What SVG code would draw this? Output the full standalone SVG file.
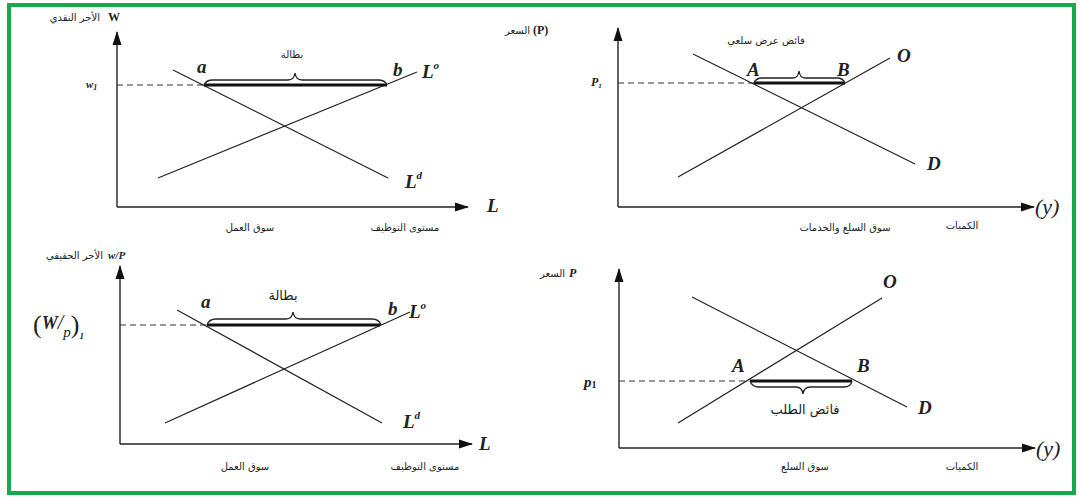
<svg xmlns="http://www.w3.org/2000/svg" width="1080" height="499" viewBox="0 0 1080 499">
<defs>
<marker id="arr" markerUnits="userSpaceOnUse" markerWidth="14" markerHeight="10" refX="13" refY="5" orient="auto">
<path d="M0,0.5 L14,5 L0,9.5 z" fill="#111"/>
</marker>
<style>
.ax{stroke:#222;stroke-width:1.4;fill:none}
.ln{stroke:#222;stroke-width:1.2;fill:none}
.dash{stroke:#333;stroke-width:1.1;stroke-dasharray:6 4;fill:none}
.bold{stroke:#111;stroke-width:3;fill:none}
.br{stroke:#222;stroke-width:1.3;fill:none}
.ar{font-family:"DejaVu Sans",sans-serif;font-size:10px;fill:#222}
.arl{font-family:"DejaVu Sans",sans-serif;font-size:13px;fill:#222}
.it{font-family:"Liberation Serif",serif;font-style:italic;font-weight:bold;font-size:19px;fill:#222}
.sm{font-family:"Liberation Serif",serif;font-weight:bold;font-size:12px;fill:#222}
</style>
</defs>
<rect x="9" y="5" width="1065" height="488" fill="#fff" stroke="#14ab4f" stroke-width="4"/>

<g id="panel-labour-nominal">
<text class="ar" x="100" y="21" text-anchor="end">الأجر النقدي</text>
<text class="sm" x="108" y="21">W</text>
<line class="ax" x1="117" y1="207" x2="117" y2="32" marker-end="url(#arr)"/>
<line class="ax" x1="117" y1="207" x2="468" y2="207" marker-end="url(#arr)"/>
<text class="it" x="487" y="212">L</text>
<text font-family="Liberation Serif,serif" font-style="italic" font-weight="bold" font-size="11" fill="#222" x="86" y="88">w<tspan font-size="8" dy="2">1</tspan></text>
<line class="dash" x1="117" y1="85" x2="203" y2="85"/>
<line class="ln" x1="173" y1="70" x2="388" y2="178"/>
<line class="ln" x1="158" y1="178" x2="417" y2="72"/>
<line class="bold" x1="204" y1="85" x2="387" y2="85"/>
<path class="br" d="M204,85 Q206,80 213,80 L288,80 Q294,80 295,73 Q296,80 302,80 L378,80 Q385,80 387,85"/>
<text class="ar" x="292" y="58" text-anchor="middle">بطالة</text>
<text class="it" x="197" y="73">a</text>
<text class="it" x="393" y="76">b</text>
<text class="it" x="422" y="78">L<tspan font-size="11" dy="-9">o</tspan></text>
<text class="it" x="405" y="188">L<tspan font-size="11" dy="-9">d</tspan></text>
<text class="ar" x="250" y="231" text-anchor="middle">سوق العمل</text>
<text class="ar" x="405" y="231" text-anchor="middle">مستوى التوظيف</text>
</g>

<g id="panel-goods-services">
<text class="ar" x="530" y="34" text-anchor="end">السعر</text>
<text class="sm" x="533" y="34">(P)</text>
<line class="ax" x1="618" y1="207" x2="618" y2="28" marker-end="url(#arr)"/>
<line class="ax" x1="618" y1="207" x2="1034" y2="207" marker-end="url(#arr)"/>
<text font-family="Liberation Serif,serif" font-style="italic" font-size="22" fill="#222" x="1035" y="214">(y)</text>
<text font-family="Liberation Serif,serif" font-style="italic" font-weight="bold" font-size="12" fill="#222" x="591" y="86">P<tspan font-size="7" dy="2">1</tspan></text>
<line class="dash" x1="618" y1="83" x2="754" y2="83"/>
<line class="ln" x1="693" y1="54" x2="915" y2="164"/>
<line class="ln" x1="678" y1="177" x2="890" y2="58"/>
<line class="bold" x1="754" y1="83" x2="845" y2="83"/>
<path class="br" d="M754,83 Q756,78 762,78 L793,78 Q798,78 799,71 Q800,78 805,78 L837,78 Q843,78 845,83"/>
<text class="ar" x="766" y="44" text-anchor="middle">فائض عرض سلعي</text>
<text class="it" x="747" y="76">A</text>
<text class="it" x="837" y="76">B</text>
<text class="it" x="897" y="62">O</text>
<text class="it" x="927" y="170">D</text>
<text class="ar" x="845" y="231" text-anchor="middle">سوق السلع والخدمات</text>
<text class="ar" x="962" y="229" text-anchor="middle">الكميات</text>
</g>

<g id="panel-labour-real">
<text class="ar" x="103" y="259" text-anchor="end">الأجر الحقيقي</text>
<text font-family="Liberation Serif,serif" font-style="italic" font-weight="bold" font-size="11" fill="#222" x="108" y="259">w/P</text>
<line class="ax" x1="120" y1="444" x2="120" y2="266" marker-end="url(#arr)"/>
<line class="ax" x1="120" y1="444" x2="472" y2="444" marker-end="url(#arr)"/>
<text class="it" x="479" y="450">L</text>
<text font-family="Liberation Serif,serif" font-style="italic" fill="#222" x="33" y="333"><tspan font-size="26" font-style="normal">(</tspan><tspan font-size="18" font-weight="bold" dy="-4">W</tspan><tspan font-size="20" dy="0">/</tspan><tspan font-size="15" dy="8">p</tspan><tspan font-size="26" font-style="normal" dy="-4">)</tspan><tspan font-size="9" font-weight="bold" dy="6">1</tspan></text>
<line class="dash" x1="120" y1="325" x2="206" y2="325"/>
<line class="ln" x1="177" y1="310" x2="382" y2="423"/>
<line class="ln" x1="165" y1="423" x2="410" y2="312"/>
<line class="bold" x1="207" y1="325" x2="380" y2="325"/>
<path class="br" d="M207,325 Q209,319 216,319 L286,319 Q292,319 293,312 Q294,319 300,319 L372,319 Q379,319 381,325"/>
<text class="arl" x="283" y="300" text-anchor="middle">بطالة</text>
<text class="it" x="201" y="308">a</text>
<text class="it" x="388" y="315">b</text>
<text class="it" x="409" y="318">L<tspan font-size="11" dy="-9">o</tspan></text>
<text class="it" x="403" y="428">L<tspan font-size="11" dy="-9">d</tspan></text>
<text class="ar" x="245" y="470" text-anchor="middle">سوق العمل</text>
<text class="ar" x="425" y="470" text-anchor="middle">مستوى التوظيف</text>
</g>

<g id="panel-goods">
<text class="ar" x="565" y="277" text-anchor="end">السعر</text>
<text font-family="Liberation Serif,serif" font-style="italic" font-weight="bold" font-size="12" fill="#222" x="569" y="277">P</text>
<line class="ax" x1="619" y1="448" x2="619" y2="269" marker-end="url(#arr)"/>
<line class="ax" x1="619" y1="448" x2="1035" y2="448" marker-end="url(#arr)"/>
<text font-family="Liberation Serif,serif" font-style="italic" font-size="22" fill="#222" x="1036" y="456">(y)</text>
<text font-family="Liberation Serif,serif" font-style="italic" font-weight="bold" font-size="15" fill="#222" x="584" y="387">p<tspan font-size="10" font-style="normal" dy="1">1</tspan></text>
<line class="dash" x1="619" y1="381" x2="749" y2="381"/>
<line class="ln" x1="692" y1="297" x2="907" y2="407"/>
<line class="ln" x1="678" y1="423" x2="882" y2="298"/>
<line class="bold" x1="750" y1="381" x2="852" y2="381"/>
<path class="br" d="M750,381 Q752,387 759,387 L796,387 Q802,387 803,394 Q804,387 810,387 L844,387 Q851,387 852,381"/>
<text class="arl" x="805" y="414" text-anchor="middle">فائض الطلب</text>
<text class="it" x="732" y="372">A</text>
<text class="it" x="857" y="372">B</text>
<text class="it" x="883" y="288">O</text>
<text class="it" x="918" y="414">D</text>
<text class="ar" x="805" y="470" text-anchor="middle">سوق السلع</text>
<text class="ar" x="962" y="470" text-anchor="middle">الكميات</text>
</g>
</svg>
